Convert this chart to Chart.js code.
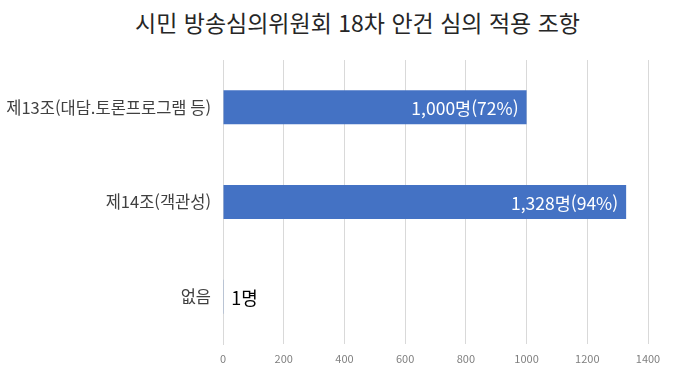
<!DOCTYPE html>
<html lang="ko">
<head>
<meta charset="utf-8">
<script src="https://cdn.jsdelivr.net/npm/chart.js@4.4.1/dist/chart.umd.min.js"></script>
<style>
  html, body { margin: 0; padding: 0; background: #fff; }
  #wrap { position: relative; width: 673px; height: 375px; }
  #title {
    position: absolute; top: 5px; left: 42px; right: 0;
    text-align: center;
    font-family: 'Noto Sans CJK KR', sans-serif;
    font-size: 23px; color: #262626;
  }
  canvas { position: absolute; left: 0; top: 0; }
</style>
</head>
<body>
<div id="wrap">
  <div id="title">시민 방송심의위원회 18차 안건 심의 적용 조항</div>
  <canvas id="articleChart" width="673" height="375"></canvas>
</div>
<script>
// categories and values
const categories = ['제13조(대담.토론프로그램 등)', '제14조(객관성)', '없음'];
const counts = [1000, 1328, 1];
const percents = [72, 94, null];
const xTicks = [0, 200, 400, 600, 800, 1000, 1200, 1400];

const FONT = "'Noto Sans CJK KR', 'Noto Sans', sans-serif";

// draws "1,000명(72%)" style labels at the end of each bar
const barValueLabels = {
  id: 'barValueLabels',
  afterDatasetsDraw(chart) {
    const ctx = chart.ctx;
    const meta = chart.getDatasetMeta(0);
    ctx.save();
    ctx.textBaseline = 'middle';
    meta.data.forEach((bar, i) => {
      const text = counts[i].toLocaleString('en-US') + '명' +
        (percents[i] != null ? '(' + percents[i] + '%)' : '');
      const width = bar.x - bar.base;
      if (width > 150) {
        ctx.font = '17.5px ' + FONT;
        ctx.fillStyle = '#ffffff';
        ctx.textAlign = 'right';
        ctx.fillText(text, bar.x - 8, bar.y + 1);
      } else {
        ctx.font = '18px ' + FONT;
        ctx.fillStyle = '#000000';
        ctx.textAlign = 'left';
        ctx.fillText(text, bar.x + 8, bar.y + 1);
      }
    });
    ctx.restore();
  }
};

new Chart(document.getElementById('articleChart'), {
  type: 'bar',
  data: {
    labels: categories,
    datasets: [{
      data: counts,
      backgroundColor: '#4472C4',
      borderWidth: 0,
      barPercentage: 0.36,
      categoryPercentage: 1
    }]
  },
  options: {
    indexAxis: 'y',
    responsive: false,
    animation: false,
    layout: { padding: { top: 60, right: 25, left: 0, bottom: 0 } },
    plugins: {
      legend: { display: false },
      tooltip: { enabled: false },
      title: { display: false }
    },
    scales: {
      x: {
        min: xTicks[0],
        max: xTicks[xTicks.length - 1],
        afterBuildTicks: (axis) => { axis.ticks = xTicks.map(v => ({ value: v })); },
        afterFit: (axis) => { axis.height = 31; },
        grid: { color: '#d9d9d9', drawTicks: false },
        border: { display: false },
        ticks: {
          color: '#7f7f7f',
          padding: 8,
          font: { family: FONT, size: 11 },
          callback: (value) => String(value)
        }
      },
      y: {
        afterFit: (axis) => { axis.width = 223; },
        grid: { display: false, drawTicks: false },
        border: { display: true, color: '#d9d9d9' },
        ticks: {
          color: '#404040',
          padding: 12,
          font: { family: FONT, size: 16.5 }
        }
      }
    }
  },
  plugins: [barValueLabels]
});
</script>
</body>
</html>
